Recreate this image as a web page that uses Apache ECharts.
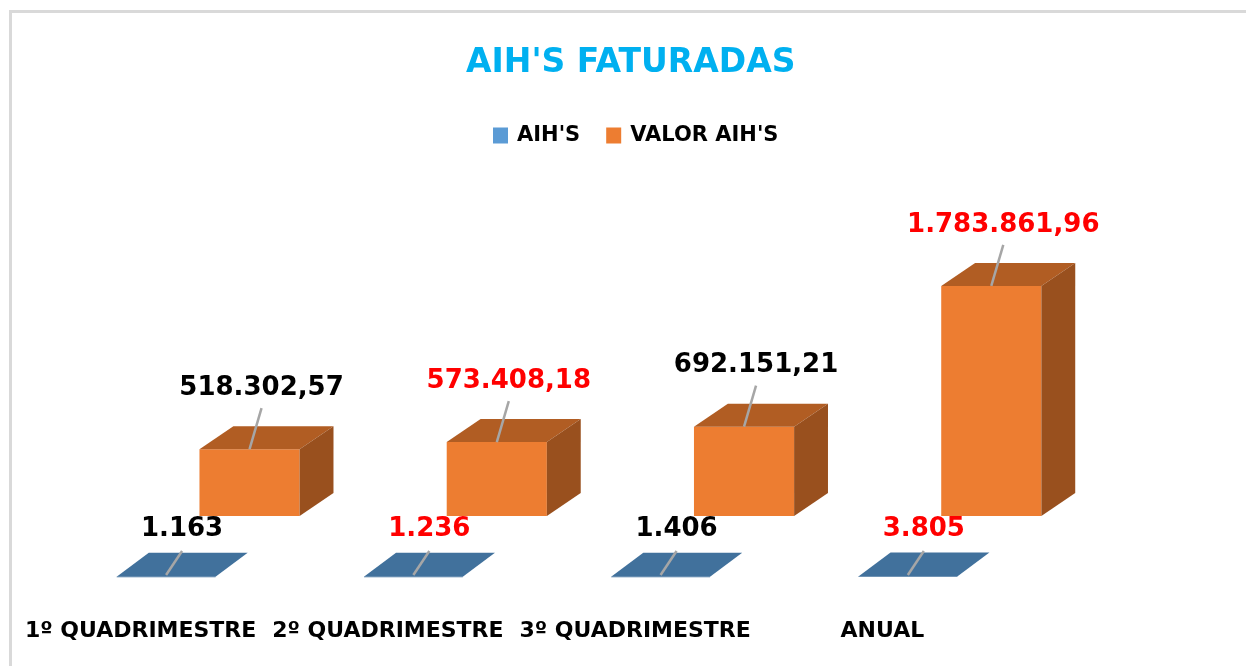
<!DOCTYPE html>
<html>
<head>
<meta charset="utf-8">
<title>AIH'S FATURADAS</title>
<script src="https://cdn.jsdelivr.net/npm/echarts@6/dist/echarts.min.js"></script>
<style>
  html, body { margin: 0; padding: 0; background: #fff; }
  #main { width: 1246px; height: 666px; }
</style>
</head>
<body>
<div id="main"></div>
<script>
// data
const categories = ['1º QUADRIMESTRE', '2º QUADRIMESTRE', '3º QUADRIMESTRE', 'ANUAL']
const aihs = [1163, 1236, 1406, 3805]
const valorAihs = [518302.57, 573408.18, 692151.21, 1783861.96]
const labelColors = ['#000000', '#FF0000', '#000000', '#FF0000']

const FONT = '"DejaVu Sans", sans-serif'

// numero no formato pt-BR (1.234.567,89)
function fmtBR(v, dec){
  const parts = v.toFixed(dec).split('.')
  const int = parts[0].replace(/\B(?=(\d{3})+(?!\d))/g, '.')
  return dec ? int + ',' + parts[1] : int
}

function labelText(x, y, text, color){
  return {
    type: 'text',
    style: {
      text: text, x: x, y: y,
      align: 'center', verticalAlign: 'middle',
      fontFamily: FONT, fontWeight: 'bold', fontSize: 26,
      fill: color
    }
  }
}

function leaderLine(x1, y1, x2, y2){
  return {
    type: 'line',
    shape: {x1: x1, y1: y1, x2: x2, y2: y2},
    style: {stroke: '#A6A6A6', lineWidth: 2.5}
  }
}

// caixa 3D laranja (serie de tras)
function renderValor(params, api){
  const i = api.value(0)
  const base = api.coord([i, 0])
  const top = api.coord([i, api.value(1)])
  const bw = api.size([1, 0])[0]
  const x0 = base[0] + 0.238 * bw
  const x1 = x0 + 0.405 * bw
  const dx = 0.137 * bw, dy = 23
  const yb = base[1], yt = top[1]
  const cx = (x0 + x1) / 2
  const lx = cx + 12, ly = yt - 61
  return {
    type: 'group',
    children: [
      {type: 'rect', shape: {x: x0, y: yt, width: x1 - x0, height: yb - yt}, style: {fill: '#ED7D31'}},
      {type: 'polygon', shape: {points: [[x0, yt], [x0 + dx, yt - dy], [x1 + dx, yt - dy], [x1, yt]]}, style: {fill: '#B15D23'}},
      {type: 'polygon', shape: {points: [[x1, yt], [x1 + dx, yt - dy], [x1 + dx, yb - dy], [x1, yb]]}, style: {fill: '#99501E'}},
      leaderLine(cx, yt, lx, ly + 20),
      labelText(lx, ly, fmtBR(api.value(1), 2), labelColors[i])
    ]
  }
}

// placa azul (serie da frente, quase sem altura)
function renderAih(params, api){
  const i = api.value(0)
  const base = api.coord([i, 0])
  const top = api.coord([i, api.value(1)])
  const bw = api.size([1, 0])[0]
  const front = 61
  const x0 = base[0] - 0.097 * bw
  const x1 = x0 + 0.4 * bw
  const dx = 0.13 * bw, dy = 24
  const yb = base[1] + front, yt = top[1] + front
  const cx = (x0 + x1) / 2
  const lx = cx + 16, ly = yb - 48
  return {
    type: 'group',
    children: [
      {type: 'rect', shape: {x: x0, y: yt, width: x1 - x0, height: Math.max(yb - yt, 0.5)}, style: {fill: '#41719C'}},
      {type: 'polygon', shape: {points: [[x0, yt], [x0 + dx, yt - dy], [x1 + dx, yt - dy], [x1, yt]]}, style: {fill: '#41719C'}},
      leaderLine(cx, yb - 2, lx, ly + 22),
      labelText(lx, ly, fmtBR(api.value(1), 0), labelColors[i])
    ]
  }
}

const myChart = echarts.init(document.getElementById('main'))
myChart.setOption({
  backgroundColor: '#fff',
  animation: false,
  title: {
    text: "AIH'S FATURADAS",
    left: 466,
    top: 47,
    padding: 0,
    textStyle: {color: '#00B0F0', fontFamily: FONT, fontWeight: 'bold', fontSize: 33}
  },
  legend: {
    left: 493,
    top: 125,
    padding: 0,
    icon: 'rect',
    itemWidth: 15,
    itemHeight: 16,
    itemGap: 26,
    textStyle: {color: '#000', fontFamily: FONT, fontWeight: 'bold', fontSize: 21, padding: [0, 0, 0, 4]},
    data: ["AIH'S", "VALOR AIH'S"]
  },
  graphic: [
    {type: 'rect', shape: {x: 9, y: 10, width: 1237, height: 3}, style: {fill: '#D9D9D9'}, silent: true},
    {type: 'rect', shape: {x: 9, y: 10, width: 3, height: 656}, style: {fill: '#D9D9D9'}, silent: true}
  ],
  grid: {left: 17, right: 240, top: 258, bottom: 150},
  xAxis: {
    type: 'category',
    data: categories,
    axisLine: {show: false},
    axisTick: {show: false},
    axisLabel: {color: '#000', fontFamily: FONT, fontWeight: 'bold', fontSize: 22, margin: 104, interval: 0}
  },
  yAxis: {
    type: 'value',
    min: 0,
    max: 2000000,
    show: false
  },
  series: [
    {
      name: "VALOR AIH'S",
      type: 'custom',
      renderItem: renderValor,
      itemStyle: {color: '#ED7D31'},
      encode: {x: 0, y: 1},
      clip: false,
      z: 2,
      data: valorAihs.map((v, i) => [i, v])
    },
    {
      name: "AIH'S",
      type: 'custom',
      renderItem: renderAih,
      itemStyle: {color: '#5B9BD5'},
      encode: {x: 0, y: 1},
      clip: false,
      z: 3,
      data: aihs.map((v, i) => [i, v])
    }
  ]
})
</script>
</body>
</html>
